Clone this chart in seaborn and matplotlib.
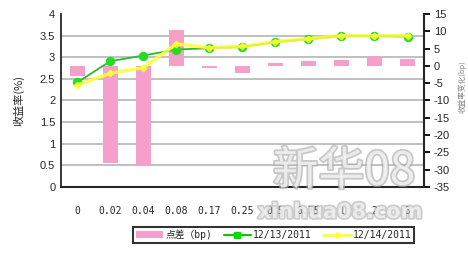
import matplotlib
matplotlib.use("Agg")
import matplotlib.pyplot as plt
import matplotlib.patheffects as pe
from matplotlib.lines import Line2D
from matplotlib.patches import Patch
import seaborn as sns
import pandas as pd

categories = ["0", "0.02", "0.04", "0.08", "0.17", "0.25", "0.5", "0.75", "1", "2", "3"]
spread_bp = [-3.0, -28.0, -29.0, 10.5, -0.7, -2.0, 0.9, 1.5, 1.8, 2.8, 2.0]
yield_1213 = [2.42, 2.91, 3.04, 3.18, 3.21, 3.24, 3.35, 3.42, 3.49, 3.49, 3.48]
yield_1214 = [2.36, 2.63, 2.76, 3.31, 3.22, 3.25, 3.36, 3.43, 3.50, 3.50, 3.50]
left_ticks = [0, 0.5, 1, 1.5, 2, 2.5, 3, 3.5, 4]
right_ticks = [15, 10, 5, 0, -5, -10, -15, -20, -25, -30, -35]
legend_labels = ["点差（bp)", "12/13/2011", "12/14/2011"]

sns.set_style("white")
plt.rcParams['font.family'] = ['Liberation Sans', 'Noto Sans CJK SC', 'DejaVu Sans']

df = pd.DataFrame({"cat": categories, "spread": spread_bp,
                   "y1": yield_1213, "y2": yield_1214})

fig = plt.figure(figsize=(4.68, 2.56), dpi=100)
ax = fig.add_axes([0.130, 0.270, 0.776, 0.675])
ax2 = ax.twinx()
ax3 = ax.twinx()

pink = "#F4A0CB"
green_line = "#2EB82E"
green_mk = "#22DD22"
yellow = "#FFFF33"

# left axis with grid
ax.set_ylim(0, 4)
ax.set_xlim(-0.5, len(categories) - 0.5)
ax.set_yticks(left_ticks)
ax.set_yticklabels([f"{t:g}" for t in left_ticks], fontsize=8)
for t in left_ticks[1:-1]:
    ax.axhline(t, color="#BBBBBB", lw=1.3, zorder=0)
ax.set_xticks([i - 0.5 for i in range(len(categories) + 1)])
ax.set_xticklabels([])
ax.tick_params(axis="x", direction="in", length=3, width=1, color="black", bottom=True)
ax.tick_params(axis="y", length=0, pad=4)
for i, c in enumerate(categories):
    ax.text(i, -0.14, c, transform=ax.get_xaxis_transform(), ha="center", va="center",
            fontsize=7, family="DejaVu Sans Mono")
ax.set_ylabel("收益率(%)", fontsize=8, family=["Noto Sans CJK SC"])
ax.yaxis.set_label_coords(-0.10, 0.5)
ax.spines["top"].set_visible(False)
ax.spines["left"].set_linewidth(1.3)
ax.spines["bottom"].set_linewidth(1.5)
ax.spines["right"].set_visible(False)

# bars on right axis
sns.barplot(data=df, x="cat", y="spread", ax=ax2, color=pink, width=0.45,
            saturation=1, zorder=2, linewidth=0)
ax2.set_ylim(-35, 15)
ax2.set_xlim(-0.5, len(categories) - 0.5)
ax2.set_yticks(right_ticks)
ax2.set_yticklabels([f"{t:g}" for t in right_ticks], fontsize=8)
ax2.tick_params(axis="y", direction="out", length=4, width=1.3, color="black", pad=3, right=True)
ax2.set_xlabel("")
ax2.set_ylabel("收益率变化(bp)", fontsize=5.5, color="#888888", family=["Noto Sans CJK SC"])
ax2.yaxis.set_label_coords(1.093, 0.58)
ax2.set_xticks([])
for s in ["top", "left", "bottom"]:
    ax2.spines[s].set_visible(False)
ax2.spines["right"].set_linewidth(1.5)
ax2.patch.set_visible(False)

# lines
sns.lineplot(data=df, x="cat", y="y1", ax=ax3, sort=False, color=green_line, lw=1.3,
             marker="o", markersize=6, markerfacecolor=green_mk, markeredgecolor=green_mk,
             zorder=3)
sns.lineplot(data=df, x="cat", y="y2", ax=ax3, sort=False, color=yellow, lw=2.5,
             marker="D", markersize=3.5, markerfacecolor=yellow, markeredgecolor=yellow,
             alpha=0.85, zorder=4)
ax3.set_ylim(0, 4)
ax3.set_xlim(-0.5, len(categories) - 0.5)
ax3.set_yticks([])
ax3.set_xticks([])
ax3.set_xlabel("")
ax3.set_ylabel("")
for s in ax3.spines.values():
    s.set_visible(False)
ax3.patch.set_visible(False)

# legend
handles = [Patch(facecolor=pink, edgecolor="none"),
           Line2D([], [], color="#00CC00", lw=1.5, marker="s", markersize=5,
                  markerfacecolor="#00DD00", markeredgecolor="#00DD00"),
           Line2D([], [], color=yellow, lw=2, marker="D", markersize=3,
                  markerfacecolor=yellow, markeredgecolor=yellow)]
leg = fig.legend(handles, legend_labels, loc="center", bbox_to_anchor=(0.585, 0.083),
                 ncol=3, frameon=True, fancybox=False, handlelength=2.8,
                 handletextpad=0.2, columnspacing=1.2, borderpad=0.3,
                 prop={"family": ["DejaVu Sans Mono", "Noto Sans CJK SC"], "size": 7})
leg.get_frame().set_edgecolor("black")
leg.get_frame().set_linewidth(1.5)

# watermark (semi-transparent, as in the reference)
wm = [pe.withStroke(linewidth=2.5, foreground="#AAAAAA")]
fig.text(0.735, 0.33, "新华08", fontsize=33, color="white", ha="center", va="center",
         family=["Noto Sans CJK SC"], path_effects=wm, alpha=0.65)
fig.text(0.727, 0.172, "xinhua08.com", fontsize=15, color="white", ha="center", va="center",
         weight="bold", family=["DejaVu Sans"], path_effects=wm, alpha=0.6)

fig.savefig("out.png", dpi=100)
